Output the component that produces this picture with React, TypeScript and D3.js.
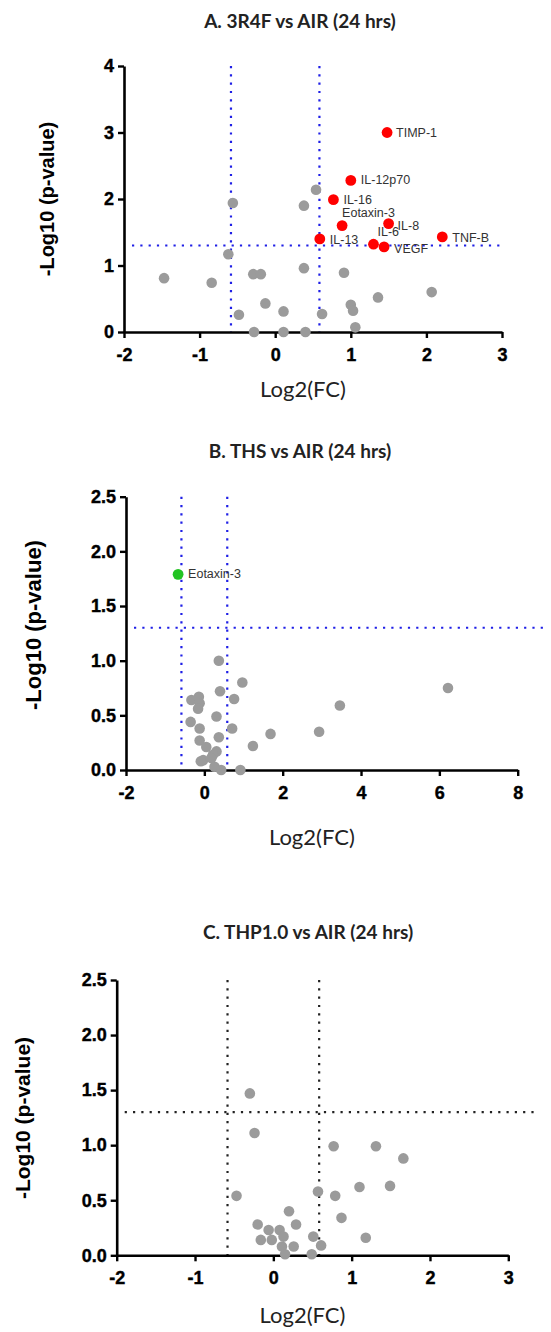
import React, { useEffect, useRef } from "react";
import * as d3 from "d3";

// thresholds: fold change 1.5 and p = 0.05
const fcCut = 0.585;
const pCut = 1.301;

// A. 3R4F vs AIR
const xTicksA = [-2, -1, 0, 1, 2, 3];
const yTicksA = [0, 1, 2, 3, 4];
const hitsA = [
  { gene: "TIMP-1", x: 1.48, y: 3.0 },
  { gene: "IL-12p70", x: 1.0, y: 2.28 },
  { gene: "IL-16", x: 0.77, y: 1.99 },
  { gene: "Eotaxin-3", x: 0.885, y: 1.6 },
  { gene: "IL-8", x: 1.5, y: 1.63 },
  { gene: "IL-13", x: 0.59, y: 1.4 },
  { gene: "IL-6", x: 1.3, y: 1.32 },
  { gene: "VEGF", x: 1.44, y: 1.28 },
  { gene: "TNF-B", x: 2.21, y: 1.43 },
];
const restA = [
  [0.54, 2.14], [-0.56, 1.94], [0.38, 1.9], [-0.62, 1.17], [0.38, 0.96],
  [-0.29, 0.87], [-0.19, 0.87], [0.91, 0.89], [-1.47, 0.81], [-0.84, 0.74],
  [2.07, 0.6], [1.36, 0.52], [-0.13, 0.43], [1.0, 0.41], [1.03, 0.32],
  [0.11, 0.31], [-0.48, 0.26], [0.62, 0.27], [1.06, 0.07], [-0.28, 0.0],
  [0.11, 0.0], [0.4, 0.0],
];

// B. THS vs AIR
const xTicksB = [-2, 0, 2, 4, 6, 8];
const yTicksB = [0, 0.5, 1, 1.5, 2, 2.5];
const hitsB = [{ gene: "Eotaxin-3", x: -0.67, y: 1.79 }];
const restB = [
  [0.37, 1.0], [0.97, 0.8], [6.22, 0.75], [0.4, 0.72], [0.76, 0.65],
  [-0.33, 0.64], [-0.14, 0.67], [-0.12, 0.61], [-0.16, 0.56], [3.46, 0.59],
  [0.31, 0.49], [-0.35, 0.44], [-0.12, 0.38], [0.71, 0.38], [2.93, 0.35],
  [1.69, 0.33], [0.37, 0.3], [-0.12, 0.27], [0.05, 0.21], [1.24, 0.22],
  [0.31, 0.17], [0.22, 0.14], [-0.03, 0.09], [-0.09, 0.08], [0.26, 0.03],
  [0.43, 0.0], [0.92, 0.0], [0.18, 0.11],
];

// C. THP1.0 vs AIR
const xTicksC = [-2, -1, 0, 1, 2, 3];
const yTicksC = [0, 0.5, 1, 1.5, 2, 2.5];
const restC = [
  [-0.3, 1.47], [-0.24, 1.11], [0.77, 0.99], [1.31, 0.99], [1.66, 0.88],
  [1.1, 0.62], [1.49, 0.63], [0.57, 0.58], [-0.47, 0.54], [0.79, 0.54],
  [0.87, 0.34], [0.2, 0.4], [-0.2, 0.28], [0.29, 0.28], [1.18, 0.16],
  [-0.06, 0.23], [0.08, 0.23], [-0.16, 0.14], [-0.02, 0.14], [0.13, 0.17],
  [0.51, 0.17], [0.26, 0.08], [0.61, 0.09], [0.49, 0.01], [0.15, 0.01],
  [0.11, 0.08],
];

// where each gene label sits relative to its dot (px)
const labelShift: Record<string, [number, number]> = {
  "TIMP-1": [9, 4],
  "IL-12p70": [10, 4],
  "IL-16": [10, 4],
  "Eotaxin-3": [0, -9],
  "IL-8": [9, 6],
  "IL-13": [10, 5],
  "IL-6": [4, -8],
  "VEGF": [10, 6],
  "TNF-B": [10, 5],
};

const panels = [
  {
    title: "A. 3R4F vs AIR (24 hrs)", titleX: 300, titleY: 28,
    xr: [124, 502], yr: [332, 66], xd: [-2, 3], yd: [0, 4],
    xt: xTicksA, yt: yTicksA, fmt: "d",
    hits: hitsA, rest: restA, hitColor: "#ff0000", lineColor: "#1f1fe6",
    hEnd: 503, xLabY: 397, yLabX: 47, yLabY: 199, yLabSize: 20,
  },
  {
    title: "B. THS vs AIR (24 hrs)", titleX: 300, titleY: 458,
    xr: [126, 517.7], yr: [770, 496.7], xd: [-2, 8], yd: [0, 2.5],
    xt: xTicksB, yt: yTicksB, fmt: ".1f",
    hits: hitsB, rest: restB, hitColor: "#22c322", lineColor: "#1f1fe6",
    hEnd: 547, xLabY: 845, yLabX: 33, yLabY: 625, yLabSize: 22,
    labelDx: 10, labelDy: 4,
  },
  {
    title: "C. THP1.0 vs AIR (24 hrs)", titleX: 308, titleY: 939,
    xr: [116.7, 508.3], yr: [1255.3, 980], xd: [-2, 3], yd: [0, 2.5],
    xt: xTicksC, yt: yTicksC, fmt: ".1f",
    hits: [], rest: restC, hitColor: "#ff0000", lineColor: "#222222",
    hEnd: 537, xLabY: 1323, yLabX: 23, yLabY: 1118, yLabSize: 21,
  },
];

const tickFont = "'Liberation Sans', Arial, sans-serif";
const titleFont = "Lato, 'Open Sans', sans-serif";

// plain hyphen for negatives, like the original figure
const hyphenFmt = (spec: string) => {
  const f = d3.format(spec);
  return (v: any) => f(v).replace("\u2212", "-");
};

export default function App() {
  const svgRef = useRef<SVGSVGElement>(null);

  useEffect(() => {
    const svg = d3.select(svgRef.current);
    svg.selectAll("*").remove();

    panels.forEach((p: any) => {
      const g = svg.append("g");
      const x = d3.scaleLinear().domain(p.xd).range(p.xr);
      const y = d3.scaleLinear().domain(p.yd).range(p.yr);

      g.append("text")
        .attr("x", p.titleX).attr("y", p.titleY)
        .attr("text-anchor", "middle")
        .attr("font-family", titleFont).attr("font-weight", 700)
        .attr("font-size", 19).attr("fill", "#222")
        .text(p.title);

      // cut-off lines
      const dots = (sel: any) =>
        sel.attr("stroke", p.lineColor).attr("stroke-width", 2.2)
          .attr("stroke-dasharray", "2.2 6.1").attr("fill", "none");
      [-fcCut, fcCut].forEach((v) => {
        g.append("line")
          .attr("x1", x(v)).attr("x2", x(v))
          .attr("y1", y(p.yd[1])).attr("y2", y(0))
          .call(dots);
      });
      g.append("line")
        .attr("x1", p.xr[0] + 8).attr("x2", p.hEnd)
        .attr("y1", y(pCut)).attr("y2", y(pCut))
        .call(dots);

      // axes
      const xAxis = g.append("g")
        .attr("transform", `translate(0,${p.yr[0]})`)
        .call(d3.axisBottom(x).tickValues(p.xt).tickSize(6).tickSizeOuter(0).tickPadding(10).tickFormat(hyphenFmt("d")));
      const yAxis = g.append("g")
        .attr("transform", `translate(${p.xr[0]},0)`)
        .call(d3.axisLeft(y).tickValues(p.yt).tickSize(6).tickSizeOuter(0).tickPadding(4).tickFormat(hyphenFmt(p.fmt)));
      [xAxis, yAxis].forEach((a) => {
        a.select(".domain").attr("stroke-width", 2.6).attr("stroke", "#000");
        a.selectAll(".tick line").attr("stroke-width", 2.4).attr("stroke", "#000");
        a.selectAll(".tick text")
          .attr("font-family", tickFont).attr("font-weight", 700)
          .attr("font-size", 18).attr("fill", "#000")
          .attr("stroke", "#000").attr("stroke-width", 0.4);
      });

      // points
      g.append("g").selectAll("circle").data(p.rest).join("circle")
        .attr("cx", (d: any) => x(d[0])).attr("cy", (d: any) => y(d[1]))
        .attr("r", 5.3).attr("fill", "#9b9b9b");
      g.append("g").selectAll("circle").data(p.hits).join("circle")
        .attr("cx", (d: any) => x(d.x)).attr("cy", (d: any) => y(d.y))
        .attr("r", 5.4).attr("fill", p.hitColor);
      g.append("g").selectAll("text").data(p.hits).join("text")
        .attr("x", (d: any) => x(d.x) + (p.labelDx ?? labelShift[d.gene][0]))
        .attr("y", (d: any) => y(d.y) + (p.labelDy ?? labelShift[d.gene][1]))
        .attr("font-family", tickFont).attr("font-size", 12.5)
        .attr("fill", "#333")
        .text((d: any) => d.gene);

      // axis titles
      g.append("text")
        .attr("x", (p.xr[0] + p.xr[1]) / 2 - 10).attr("y", p.xLabY)
        .attr("text-anchor", "middle")
        .attr("font-family", titleFont).attr("font-size", 22).attr("fill", "#222")
        .text("Log2(FC)");
      g.append("text")
        .attr("transform", `translate(${p.yLabX},${p.yLabY}) rotate(-90)`)
        .attr("text-anchor", "middle").attr("dy", "0.35em")
        .attr("font-family", tickFont).attr("font-weight", 700)
        .attr("font-size", p.yLabSize).attr("fill", "#000")
        .text("-Log10 (p-value)");
    });
  }, []);

  return (
    <svg
      ref={svgRef}
      width={551}
      height={1332}
      style={{ position: "absolute", left: 0, top: 0, background: "#fff" }}
    />
  );
}
